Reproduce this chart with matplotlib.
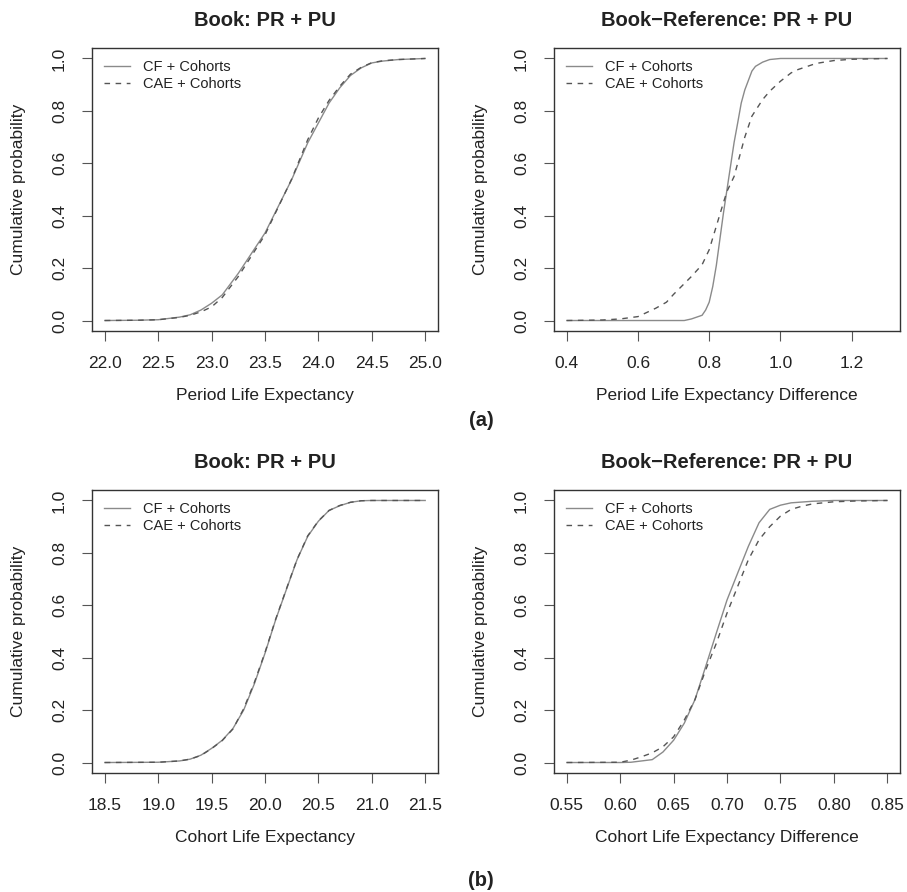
import matplotlib
matplotlib.use("Agg")
import matplotlib.pyplot as plt
import numpy as np

plt.rcParams["font.family"] = ["Liberation Sans", "DejaVu Sans"]

# --- data read off the reference (empirical CDFs) ---
# (a) left: period life expectancy
per_x_cf = [22.0, 22.3, 22.5, 22.7, 22.8, 22.9, 23.0, 23.1, 23.25, 23.5, 23.75, 23.9, 24.0,
            24.1, 24.2, 24.3, 24.4, 24.5, 24.6, 24.75, 25.0]
per_y_cf = [0.0, 0.001, 0.003, 0.013, 0.022, 0.04, 0.066, 0.098, 0.18, 0.334, 0.538, 0.678, 0.754,
            0.83, 0.888, 0.935, 0.964, 0.983, 0.99, 0.996, 1.0]
per_x_cae = [22.0, 22.3, 22.5, 22.7, 22.8, 22.9, 23.0, 23.1, 23.25, 23.5, 23.75, 23.9, 24.0,
             24.1, 24.2, 24.3, 24.4, 24.5, 24.6, 24.75, 25.0]
per_y_cae = [0.0, 0.001, 0.003, 0.012, 0.02, 0.033, 0.052, 0.088, 0.168, 0.327, 0.54, 0.69, 0.773,
             0.84, 0.894, 0.94, 0.966, 0.984, 0.991, 0.996, 1.0]

# (a) right: period life expectancy difference
pdiff_x_cf = [0.4, 0.6, 0.73, 0.75, 0.78, 0.79, 0.80, 0.81, 0.82, 0.83, 0.84, 0.85, 0.86, 0.87,
              0.88, 0.89, 0.90, 0.92, 0.93, 0.95, 0.97, 1.0, 1.3]
pdiff_y_cf = [0.0, 0.0, 0.0, 0.006, 0.02, 0.04, 0.07, 0.13, 0.21, 0.31, 0.41, 0.50, 0.59, 0.68,
              0.754, 0.83, 0.88, 0.952, 0.97, 0.986, 0.996, 1.0, 1.0]
pdiff_x_cae = [0.4, 0.5, 0.55, 0.6, 0.65, 0.68, 0.7, 0.75, 0.78, 0.8, 0.82, 0.84, 0.85, 0.87,
               0.89, 0.9, 0.92, 0.95, 0.97, 1.0, 1.03, 1.05, 1.1, 1.15, 1.2, 1.3]
pdiff_y_cae = [0.0, 0.002, 0.006, 0.015, 0.047, 0.07, 0.1, 0.168, 0.213, 0.27, 0.36, 0.45, 0.493, 0.55,
               0.65, 0.70, 0.78, 0.843, 0.875, 0.913, 0.945, 0.958, 0.981, 0.992, 0.997, 1.0]

# (b) left: cohort life expectancy
coh_x = [18.5, 19.0, 19.2, 19.3, 19.4, 19.5, 19.6, 19.7, 19.8, 19.9, 20.0, 20.1, 20.2, 20.3,
         20.4, 20.5, 20.6, 20.7, 20.8, 20.9, 21.0, 21.5]
coh_y_cf = [0.0, 0.001, 0.006, 0.013, 0.028, 0.054, 0.085, 0.13, 0.2, 0.30, 0.417, 0.545, 0.66, 0.774,
            0.863, 0.921, 0.962, 0.98, 0.993, 0.999, 1.0, 1.0]
coh_y_cae = [0.0, 0.001, 0.006, 0.013, 0.027, 0.053, 0.084, 0.128, 0.205, 0.305, 0.42, 0.547, 0.662, 0.775,
             0.865, 0.922, 0.962, 0.981, 0.993, 0.999, 1.0, 1.0]

# (b) right: cohort life expectancy difference
cdiff_x_cf = [0.55, 0.60, 0.61, 0.62, 0.63, 0.64, 0.65, 0.66, 0.67, 0.68, 0.69, 0.70, 0.71,
              0.72, 0.73, 0.74, 0.75, 0.76, 0.78, 0.80, 0.85]
cdiff_y_cf = [0.0, 0.0, 0.001, 0.006, 0.011, 0.04, 0.085, 0.15, 0.24, 0.366, 0.494, 0.62, 0.723,
              0.825, 0.915, 0.966, 0.982, 0.991, 0.997, 1.0, 1.0]
cdiff_x_cae = [0.55, 0.60, 0.61, 0.62, 0.63, 0.64, 0.65, 0.66, 0.67, 0.68, 0.69, 0.70, 0.71,
               0.72, 0.73, 0.74, 0.75, 0.76, 0.77, 0.78, 0.80, 0.82, 0.85]
cdiff_y_cae = [0.0, 0.001, 0.009, 0.022, 0.037, 0.06, 0.098, 0.162, 0.24, 0.353, 0.455, 0.57, 0.672,
               0.774, 0.85, 0.90, 0.94, 0.966, 0.978, 0.987, 0.995, 0.998, 1.0]

labels = ["CF + Cohorts", "CAE + Cohorts"]
titles = ["Book: PR + PU", "Book\u2212Reference: PR + PU"]

panels = [
    # (left px, top px, curves, title, xlabel, ticks, tick format, data range)
    (92, 48, (per_x_cf, per_y_cf, per_x_cae, per_y_cae), titles[0], "Period Life Expectancy",
     np.arange(22.0, 25.01, 0.5), "%.1f", (22.0, 25.0)),
    (554, 48, (pdiff_x_cf, pdiff_y_cf, pdiff_x_cae, pdiff_y_cae), titles[1],
     "Period Life Expectancy Difference", np.arange(0.4, 1.21, 0.2), "%.1f", (0.4, 1.3)),
    (92, 490, (coh_x, coh_y_cf, coh_x, coh_y_cae), titles[0], "Cohort Life Expectancy",
     np.arange(18.5, 21.51, 0.5), "%.1f", (18.5, 21.5)),
    (554, 490, (cdiff_x_cf, cdiff_y_cf, cdiff_x_cae, cdiff_y_cae), titles[1],
     "Cohort Life Expectancy Difference", np.arange(0.55, 0.851, 0.05), "%.2f", (0.55, 0.85)),
]

W, H = 907, 892
fig = plt.figure(figsize=(W / 100, H / 100), dpi=100)
axw, axh = 346, 283
text_c = "#222222"
frame_c = "#333333"

for left, top, (x1, y1, x2, y2), title, xlabel, ticks, fmt, (lo, hi) in panels:
    ax = fig.add_axes([left / W, 1 - (top + axh) / H, axw / W, axh / H])
    ax.plot(x1, y1, color="#8a8a8a", lw=1.0, label=labels[0])
    ax.plot(x2, y2, color="#555555", lw=1.0, dashes=(4, 4), label=labels[1])
    pad = 0.04 * (hi - lo)
    ax.set_xlim(lo - pad, hi + pad)
    ax.set_ylim(-0.04, 1.04)
    ax.set_xticks(ticks)
    ax.set_xticklabels([fmt % t for t in ticks])
    ax.set_yticks(np.arange(0, 1.01, 0.2))
    ax.set_yticklabels(["%.1f" % t for t in np.arange(0, 1.01, 0.2)], rotation=90, va="center")
    ax.tick_params(direction="out", length=7, width=0.8, color="#555555",
                   labelsize=12.5, labelcolor=text_c)
    ax.tick_params(axis="x", pad=11)
    ax.tick_params(axis="y", pad=11)
    for s in ax.spines.values():
        s.set_color(frame_c)
        s.set_linewidth(1.0)
    ax.set_title(title, fontsize=14.5, fontweight="bold", color=text_c, pad=16)
    ax.set_xlabel(xlabel, fontsize=12.5, color=text_c, labelpad=12)
    ax.set_ylabel("Cumulative probability", fontsize=12.5, color=text_c, labelpad=19)
    ax.legend(loc="upper left", bbox_to_anchor=(12 / axw, 1 - 12 / axh), frameon=False,
              fontsize=10.5, handlelength=1.8, handletextpad=0.9, labelspacing=0.18,
              borderpad=0, borderaxespad=0, labelcolor=text_c)

fig.text(481 / W, 1 - 420 / H, "(a)", fontsize=14.5, fontweight="bold", color=text_c,
         ha="center", va="center")
fig.text(481 / W, 1 - 880 / H, "(b)", fontsize=14.5, fontweight="bold", color=text_c,
         ha="center", va="center")

plt.savefig("out.png", dpi=100)
plt.close()
